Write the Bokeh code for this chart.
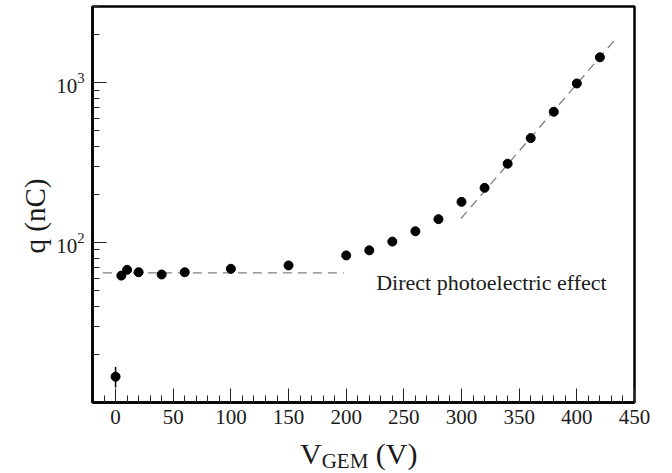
from bokeh.plotting import figure
from bokeh.models import FixedTicker, Label, ColumnDataSource, Title, Div
from bokeh.layouts import column
from bokeh.embed import file_html
from bokeh.resources import INLINE

# ---- data ----
v_gem = [0, 5, 10, 20, 40, 60, 100, 150, 200, 220, 240, 260, 280, 300, 320, 340, 360, 380, 400, 420]
q_nc = [14.5, 62.2, 67.6, 65.3, 63.2, 65.3, 68.6, 72.0, 83.2, 89.5, 101.5, 117.8, 140.2, 179.9,
        220.2, 311.7, 450.8, 659, 990, 1443]
err_v = [0]
err_lo = [12.4]
err_hi = [16.7]

photo_v = [-11, 198]
photo_q = [64.7, 64.7]

fit_v = [299.6, 435.4]
fit_q = [141.6, 1946]

x_major = [0, 50, 100, 150, 200, 250, 300, 350, 400, 450]
x_minor = list(range(-10, 450, 10))
y_major = [100, 1000]
y_minor = [20, 30, 40, 50, 60, 70, 80, 90, 200, 300, 400, 500, 600, 700, 800, 900, 2000, 3000]

annot_text = "Direct photoelectric effect"
annot_v = 226
annot_q = 56.5

x_label_var = "V"
x_label_sub = "GEM"
x_label_unit = "(V)"
y_label = "q (nC)"

FONT = "Liberation Serif"
TXT = "#1a1a1a"

p = figure(width=672, height=436, x_range=(-20, 450), y_range=(10, 3000),
           y_axis_type="log", output_backend="svg", toolbar_location=None,
           min_border_left=92, min_border_right=38, min_border_top=6, min_border_bottom=34,
           margin=0)

p.background_fill_color = "white"
p.border_fill_color = "white"
p.outline_line_color = "black"
p.outline_line_width = 2.5
p.xgrid.visible = False
p.ygrid.visible = False

for ax in (p.xaxis[0], p.yaxis[0]):
    ax.axis_line_color = "black"
    ax.axis_line_width = 2.5
    ax.major_tick_in = 14
    ax.major_tick_out = 0
    ax.minor_tick_in = 7
    ax.minor_tick_out = 0
    ax.major_tick_line_color = "#222222"
    ax.minor_tick_line_color = "#222222"
    ax.major_tick_line_width = 1
    ax.minor_tick_line_width = 1
    ax.major_label_text_font = FONT
    ax.major_label_text_font_size = "21px"
    ax.major_label_text_color = TXT

p.xaxis.ticker = FixedTicker(ticks=x_major, minor_ticks=x_minor)
p.yaxis.ticker = FixedTicker(ticks=y_major, minor_ticks=y_minor)
p.xaxis.major_label_standoff = 7
p.yaxis.major_label_standoff = 8

# dashed reference lines
p.line(photo_v, photo_q, line_color="#808080", line_width=1.3, line_dash="9 6")
p.line(fit_v, fit_q, line_color="#808080", line_width=1.3, line_dash="9 6")

# error bar
esrc = ColumnDataSource(dict(x=err_v, lo=err_lo, hi=err_hi))
p.segment(x0="x", y0="lo", x1="x", y1="hi", source=esrc, line_color="black", line_width=1.5)

# data points
p.scatter(v_gem, q_nc, size=9, fill_color="black", line_color="black")

p.add_layout(Label(x=annot_v, y=annot_q, text=annot_text, text_font=FONT,
                   text_font_size="22px", text_color=TXT, text_baseline="alphabetic"))

# y axis label as a title on the left (allows placing it along the axis)
ty = Title(text=y_label, align="left", offset=149, standoff=5, text_font=FONT,
           text_font_size="29px", text_font_style="normal", text_color=TXT)
p.add_layout(ty, "left")

# x axis label with a real subscript, as HTML text under the plot
xlabel_html = (
    '<div style="font-family:\'Liberation Serif\',serif;font-size:30px;line-height:35px;'
    'color:%s;padding-left:300px;white-space:nowrap;margin:0;">%s'
    '<span style="font-size:21px;line-height:20px;position:relative;top:4px;">%s</span> %s</div>'
    % (TXT, x_label_var, x_label_sub, x_label_unit)
)
xlabel = Div(text=xlabel_html, width=672, height=37, margin=0)

layout = column(p, xlabel, spacing=0, margin=0)

open("out.html", "w").write(file_html(layout, INLINE))
